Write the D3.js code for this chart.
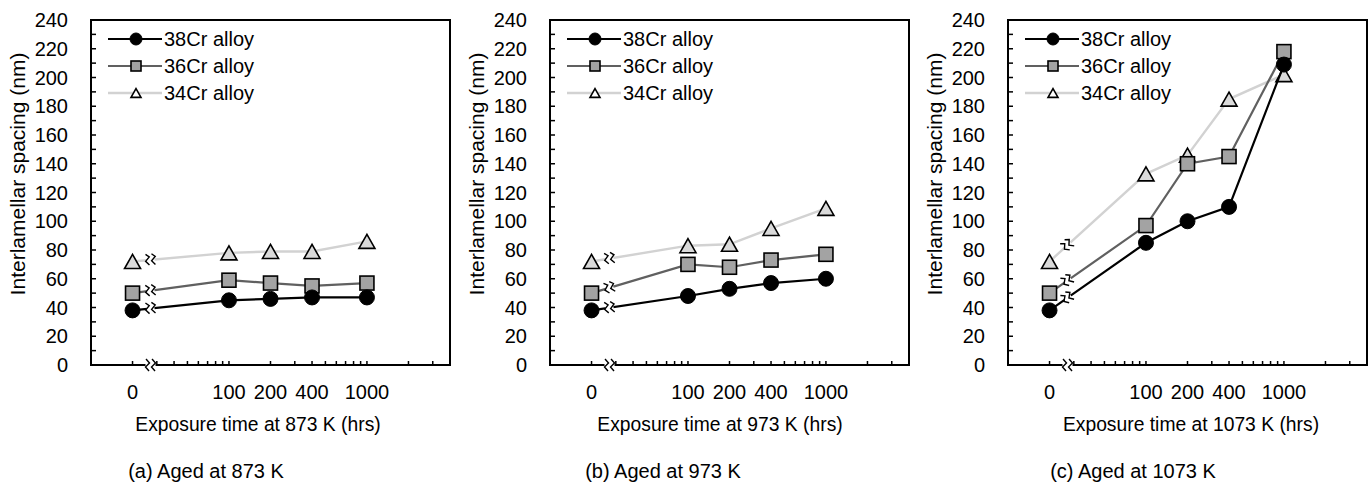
<!DOCTYPE html>
<html>
<head>
<meta charset="utf-8">
<script src="https://cdn.jsdelivr.net/npm/d3@7"></script>
<style>
  body { margin: 0; background: #fff; }
  svg text { font-family: "Liberation Sans", Arial, sans-serif; fill: #000; }
</style>
</head>
<body>
<svg id="chart" width="1372" height="491"></svg>
<script>
// exposure times (hrs); 0 sits left of the axis break
var times = [0, 100, 200, 400, 1000];
var timeLabels = ["0", "100", "200", "400", "1000"];
var yTicks = [0, 20, 40, 60, 80, 100, 120, 140, 160, 180, 200, 220, 240];
var seriesNames = ["38Cr alloy", "36Cr alloy", "34Cr alloy"];
var temps = ["873", "973", "1073"];
var captions = ["(a) Aged at 873 K", "(b) Aged at 973 K", "(c) Aged at 1073 K"];

// interlamellar spacing (nm)
var a38 = [38, 45, 46, 47, 47];
var a36 = [50, 59, 57, 55, 57];
var a34 = [72, 78, 79, 79, 86];

var b38 = [38, 48, 53, 57, 60];
var b36 = [50, 70, 68, 73, 77];
var b34 = [72, 83, 84, 95, 109];

var c38 = [38, 85, 100, 110, 209];
var c36 = [50, 97, 140, 145, 218];
var c34 = [72, 133, 146, 185, 202];

var panels = [[a38, a36, a34], [b38, b36, b34], [c38, c36, c34]];

var svg = d3.select("#chart");
var offsets = [0, 459, 917];
var titleCx = [258, 720, 1191];
var capCx = [206, 663, 1133];

var styles = [
  {line: "#000", width: 2.2, shape: "circle", fill: "#000"},
  {line: "#606060", width: 2.2, shape: "square", fill: "#a3a3a3"},
  {line: "#d2d2d2", width: 2.4, shape: "triangle", fill: "#dadada"}
];

function marker(g, shape, x, y, s, fill) {
  if (shape == "circle") {
    g.append("circle").attr("cx", x).attr("cy", y).attr("r", s / 2)
      .attr("fill", fill).attr("stroke", "#000").attr("stroke-width", 1);
  } else if (shape == "square") {
    g.append("rect").attr("x", x - s / 2).attr("y", y - s / 2)
      .attr("width", s).attr("height", s)
      .attr("fill", fill).attr("stroke", "#000").attr("stroke-width", 1.6);
  } else {
    var h = s * 0.88;
    g.append("path")
      .attr("d", "M" + x + "," + (y - h / 2) + "L" + (x + s / 2) + "," + (y + h / 2) + "L" + (x - s / 2) + "," + (y + h / 2) + "Z")
      .attr("fill", fill).attr("stroke", "#000").attr("stroke-width", 1.6)
      .attr("stroke-linejoin", "miter");
  }
}

// the little "break" glyph: two zigzags across a line
function breakMark(g, x, y, angle) {
  var b = g.append("g").attr("transform", "translate(" + x + "," + y + ") rotate(" + angle + ")");
  b.append("rect").attr("x", -4).attr("y", -3).attr("width", 8).attr("height", 6).attr("fill", "#fff");
  [-3, 3].forEach(function(dx) {
    b.append("path")
      .attr("d", "M" + (dx - 1.5) + ",-6 L" + (dx + 2) + ",-3 L" + (dx - 2) + ",1 L" + (dx + 1.5) + ",5")
      .attr("fill", "none").attr("stroke", "#000").attr("stroke-width", 1.4);
  });
}

panels.forEach(function(series, p) {
  var ox = offsets[p];
  var g = svg.append("g");

  var x = d3.scaleLog().domain([10, 4000]).range([ox + 91, ox + 450]);
  var y = d3.scaleLinear().domain([0, 240]).range([365, 20]);
  var xPos = function(t) { return t == 0 ? x(20) : x(t); };
  var xBreak = x(27);

  // minor/major ticks inside the frame
  var yMinor = d3.range(10, 240, 10);
  g.selectAll(".yt").data(yMinor).enter().append("line")
    .attr("x1", x(10)).attr("x2", x(10) + 5)
    .attr("y1", function(d) { return y(d); }).attr("y2", function(d) { return y(d); })
    .attr("stroke", "#000").attr("stroke-width", 1.5);

  var xMinor = [20, 30, 40, 50, 60, 70, 80, 90, 100, 200, 300, 400, 500, 600, 700, 800, 900, 1000, 2000, 3000];
  g.selectAll(".xt").data(xMinor).enter().append("line")
    .attr("x1", function(d) { return x(d); }).attr("x2", function(d) { return x(d); })
    .attr("y1", y(0)).attr("y2", y(0) - 4)
    .attr("stroke", "#000").attr("stroke-width", 1.5);

  // frame
  g.append("rect").attr("x", x(10)).attr("y", y(240))
    .attr("width", x(4000) - x(10)).attr("height", y(0) - y(240))
    .attr("fill", "none").attr("stroke", "#000").attr("stroke-width", 2);

  // axis break on the x axis
  g.append("rect").attr("x", xBreak - 5).attr("y", y(0) - 5).attr("width", 10).attr("height", 10).attr("fill", "#fff");
  [-3, 3].forEach(function(dx) {
    g.append("path")
      .attr("d", "M" + (xBreak + dx - 1.5) + "," + (y(0) - 6) + " L" + (xBreak + dx + 2) + "," + (y(0) - 2) +
                 " L" + (xBreak + dx - 2) + "," + (y(0) + 2) + " L" + (xBreak + dx + 1.5) + "," + (y(0) + 6))
      .attr("fill", "none").attr("stroke", "#000").attr("stroke-width", 1.4);
  });

  // tick labels
  g.selectAll(".yl").data(yTicks).enter().append("text")
    .attr("x", x(10) - 23).attr("y", function(d) { return y(d) + 7; })
    .attr("text-anchor", "end").attr("font-size", 20)
    .text(function(d) { return d; });

  g.selectAll(".xl").data(times).enter().append("text")
    .attr("x", function(d) { return xPos(d); }).attr("y", 399)
    .attr("text-anchor", "middle").attr("font-size", 20)
    .text(function(d, i) { return timeLabels[i]; });

  // axis titles and caption
  g.append("text")
    .attr("transform", "translate(" + (ox + 25) + ",174) rotate(-90)")
    .attr("text-anchor", "middle").attr("font-size", 21)
    .text("Interlamellar spacing (nm)");
  g.append("text").attr("x", titleCx[p]).attr("y", 431)
    .attr("text-anchor", "middle").attr("font-size", 19.3)
    .text("Exposure time at " + temps[p] + " K (hrs)");
  g.append("text").attr("x", capCx[p]).attr("y", 478)
    .attr("text-anchor", "middle").attr("font-size", 20)
    .text(captions[p]);

  // series, drawn back to front so the 38Cr line sits on top
  var line = d3.line().x(function(d, i) { return xPos(times[i]); }).y(function(d) { return y(d); });
  [2, 1, 0].forEach(function(s) {
    var vals = series[s], st = styles[s];
    g.append("path").datum(vals).attr("d", line)
      .attr("fill", "none").attr("stroke", st.line).attr("stroke-width", st.width);

    var x0 = xPos(times[0]), x1 = xPos(times[1]);
    var y0 = y(vals[0]), y1 = y(vals[1]);
    var t = (xBreak - x0) / (x1 - x0);
    var ang = Math.atan2(y1 - y0, x1 - x0) * 180 / Math.PI;
    breakMark(g, xBreak, y0 + t * (y1 - y0), ang);

    vals.forEach(function(v, i) {
      marker(g, st.shape, xPos(times[i]), y(v), st.shape == "triangle" ? 16 : (st.shape == "square" ? 14 : 15), st.fill);
    });
  });

  // legend
  seriesNames.forEach(function(name, s) {
    var st = styles[s], ly = 39 + s * 27;
    g.append("line").attr("x1", ox + 108).attr("x2", ox + 162).attr("y1", ly).attr("y2", ly)
      .attr("stroke", st.line).attr("stroke-width", st.width);
    marker(g, st.shape, ox + 136, ly, st.shape == "circle" ? 12 : 10, st.shape == "triangle" ? "#fff" : st.fill);
    g.append("text").attr("x", ox + 164).attr("y", ly + 7).attr("font-size", 20).text(name);
  });
});
</script>
</body>
</html>
